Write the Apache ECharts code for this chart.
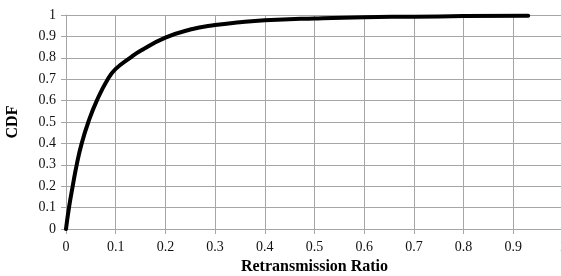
<!DOCTYPE html>
<html>
<head>
<meta charset="utf-8">
<script src="https://cdn.jsdelivr.net/npm/echarts@6/dist/echarts.min.js"></script>
<style>
  html, body { margin: 0; padding: 0; background: #fff; }
  #chart { width: 561px; height: 276px; }
</style>
</head>
<body>
<div id="chart"></div>
<script>
  // CDF of retransmission ratio
  const ratio = [0, 0.006, 0.0135, 0.0215, 0.0316, 0.045, 0.062, 0.084, 0.1, 0.129, 0.15, 0.2, 0.25, 0.3, 0.35, 0.4, 0.5, 0.6, 0.7, 0.8, 0.93];
  const cdf = [0, 0.1, 0.2, 0.3, 0.4, 0.5, 0.6, 0.7, 0.748, 0.8, 0.833, 0.894, 0.932, 0.953, 0.966, 0.975, 0.984, 0.99, 0.992, 0.995, 0.997];

  const font = '"Liberation Serif", "Times New Roman", serif';
  const gridColor = '#a6a6a6';

  const chart = echarts.init(document.getElementById('chart'));
  chart.setOption({
    animation: false,
    grid: { left: 66, top: 15, width: 497, height: 214, containLabel: false, outerBoundsMode: 'none' },
    xAxis: {
      type: 'value', min: 0, max: 1, interval: 0.1,
      name: 'Retransmission Ratio', nameLocation: 'middle', nameGap: 26,
      nameTextStyle: { fontFamily: font, fontSize: 16, fontWeight: 'bold', color: '#000' },
      axisLine: { lineStyle: { color: gridColor } },
      axisTick: { show: true, length: 5, lineStyle: { color: gridColor } },
      axisLabel: { fontFamily: font, fontSize: 14, color: '#111', margin: 11,
        formatter: v => String(Math.round(v * 10) / 10) },
      splitLine: { show: true, lineStyle: { color: gridColor } }
    },
    yAxis: {
      type: 'value', min: 0, max: 1, interval: 0.1,
      name: 'CDF', nameLocation: 'middle', nameGap: 45, nameRotate: 90,
      nameTextStyle: { fontFamily: font, fontSize: 16, fontWeight: 'bold', color: '#000' },
      axisLine: { show: true, lineStyle: { color: gridColor } },
      axisTick: { show: true, length: 5, lineStyle: { color: gridColor } },
      axisLabel: { fontFamily: font, fontSize: 14, color: '#111', margin: 10,
        formatter: v => String(Math.round(v * 10) / 10) },
      splitLine: { show: true, lineStyle: { color: gridColor } }
    },
    series: [{
      type: 'line',
      data: ratio.map((x, i) => [x, cdf[i]]),
      smooth: 0.5,
      showSymbol: false,
      lineStyle: { color: '#000', width: 4, cap: 'round', join: 'round' }
    }]
  });
</script>
</body>
</html>
